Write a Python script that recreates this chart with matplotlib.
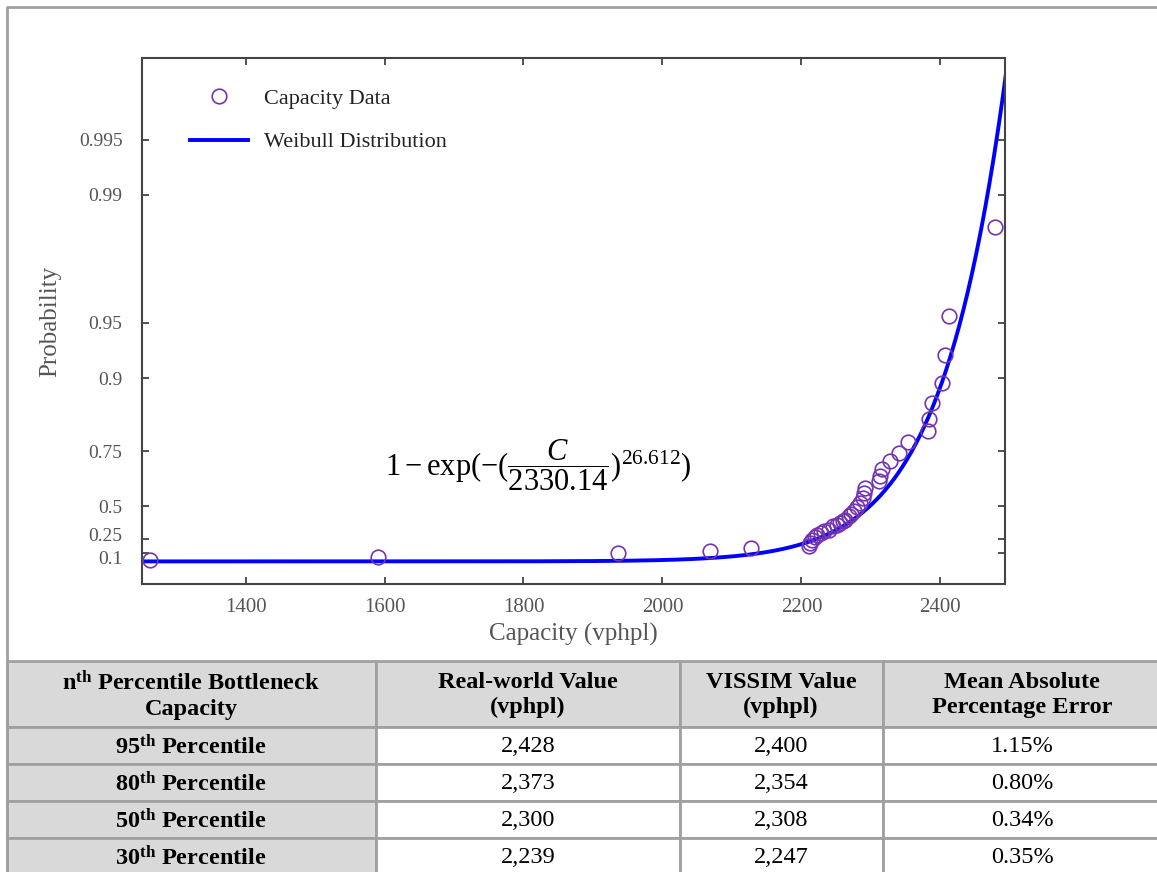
import numpy as np
import matplotlib
matplotlib.use("Agg")
import matplotlib.pyplot as plt
from matplotlib.patches import Rectangle
from matplotlib.lines import Line2D
from matplotlib.transforms import ScaledTranslation

plt.rcParams['font.family'] = ['Liberation Serif', 'DejaVu Serif']
plt.rcParams['mathtext.fontset'] = 'custom'
plt.rcParams['mathtext.rm'] = 'Liberation Serif'
plt.rcParams['mathtext.bf'] = 'Liberation Serif:bold'
plt.rcParams['mathtext.it'] = 'Liberation Serif:italic'

# empirical capacity observations (vphpl) and their plotting positions
capacity = [1262, 1591, 1936, 2069, 2127, 2211, 2213, 2215, 2219, 2222,
            2228, 2232, 2239, 2246, 2251, 2256, 2260, 2263, 2268, 2272,
            2275, 2280, 2285, 2288, 2290, 2291, 2311, 2313, 2316, 2328,
            2340, 2354, 2382, 2383, 2388, 2402, 2407, 2413, 2479]
probability = [0.012, 0.054, 0.100, 0.118, 0.155, 0.172, 0.205, 0.239, 0.262, 0.285,
               0.300, 0.315, 0.329, 0.356, 0.370, 0.383, 0.396, 0.408, 0.433, 0.450,
               0.467, 0.496, 0.521, 0.550, 0.577, 0.603, 0.635, 0.657, 0.685, 0.716,
               0.745, 0.776, 0.805, 0.833, 0.864, 0.894, 0.925, 0.954, 0.985]

# fitted Weibull parameters
weibull_scale = 2330.14
weibull_shape = 26.612

prob_ticks = [0.1, 0.25, 0.5, 0.75, 0.9, 0.95, 0.99, 0.995]
prob_ticklabels = ['0.1', '0.25', '0.5', '0.75', '0.9', '0.95', '0.99', '0.995']
cap_ticks = [1400, 1600, 1800, 2000, 2200, 2400]

# summary table
col_headers = ['n$^{\\mathbf{th}}$ Percentile Bottleneck\nCapacity',
               'Real-world Value\n(vphpl)',
               'VISSIM Value\n(vphpl)',
               'Mean Absolute\nPercentage Error']
percentile_rows = ['95$^{\\mathbf{th}}$ Percentile', '80$^{\\mathbf{th}}$ Percentile',
                   '50$^{\\mathbf{th}}$ Percentile', '30$^{\\mathbf{th}}$ Percentile']
real_world = ['2,428', '2,373', '2,300', '2,239']
vissim = ['2,400', '2,354', '2,308', '2,247']
mape = ['1.15%', '0.80%', '0.34%', '0.35%']


def cum_hazard(p):
    p = np.clip(np.asarray(p, dtype=float), -10, 1 - 1e-12)
    return -np.log(1 - p)


def from_hazard(h):
    return 1 - np.exp(-np.asarray(h, dtype=float))


W, H = 1157, 872
fig = plt.figure(figsize=(W / 100, H / 100), dpi=100)

# page frame + table drawn in pixel coordinates
bg = fig.add_axes([0, 0, 1, 1])
bg.set_xlim(0, W)
bg.set_ylim(H, 0)
bg.axis('off')
grey = '#a0a0a0'
bg.plot([7, 7, W + 5], [H + 5, 7, 7], color=grey, lw=2, solid_capstyle='butt')

col_edges = [7, 376, 680, 883, W + 5]
text_centres = [191, 528, 781, 1022]
row_edges = [661, 727, 764, 801, 838, 875]
n_rows = len(row_edges) - 1
for r in range(n_rows):
    for c in range(4):
        x0, x1 = col_edges[c], col_edges[c + 1]
        y0, y1 = row_edges[r], row_edges[r + 1]
        fill = '#d9d9d9' if (r == 0 or c == 0) else 'white'
        bg.add_patch(Rectangle((x0, y0), x1 - x0, y1 - y0, facecolor=fill,
                               edgecolor=grey, lw=2))
        if r == 0:
            txt, weight = col_headers[c], 'bold'
        else:
            row_vals = [percentile_rows, real_world, vissim, mape][c]
            txt = row_vals[r - 1]
            weight = 'bold' if c == 0 else 'normal'
        bg.text(text_centres[c], (y0 + y1) / 2 + 1, txt, ha='center',
                va='center', fontsize=17.5, fontweight=weight, color='black',
                linespacing=1.25)

# probability plot
ax = fig.add_axes([142 / W, 1 - 584 / H, (1005 - 142) / W, (584 - 58) / H])
ax.set_yscale('function', functions=(cum_hazard, from_hazard))

c_grid = np.linspace(1250, 2500, 600)
weibull_cdf = 1 - np.exp(-(c_grid / weibull_scale) ** weibull_shape)
ax.plot(c_grid, weibull_cdf, color='#0000ff', lw=2.8, zorder=2)
ax.plot(capacity, probability, 'o', mfc='none', mec='#7434b0', mew=1.2,
        ms=10.5, zorder=3)

ax.set_xlim(1251, 2493)
ax.set_ylim(-0.3284, 0.99821)
ax.set_yticks(prob_ticks)
ax.set_yticklabels(prob_ticklabels)
ax.set_xticks(cap_ticks)
ax.yaxis.set_minor_locator(matplotlib.ticker.NullLocator())

ax.tick_params(direction='in', top=True, right=True, length=5, width=1.2,
               colors='#333333', labelcolor='#555555')
ax.tick_params(axis='y', pad=14, labelsize=14)
ax.tick_params(axis='x', pad=10, labelsize=15)
for sp in ax.spines.values():
    sp.set_color('#444444')
    sp.set_linewidth(1.5)

# the two lowest probability labels sit very close; spread them a touch
ylabels = ax.get_yticklabels()
ylabels[0].set_transform(ylabels[0].get_transform() +
                         ScaledTranslation(0, -3 / 72, fig.dpi_scale_trans))
ylabels[1].set_transform(ylabels[1].get_transform() +
                         ScaledTranslation(0, 3 / 72, fig.dpi_scale_trans))

ax.set_xlabel('Capacity (vphpl)', fontsize=18, color='#555555', labelpad=4)
ax.set_ylabel('Probability', fontsize=18, color='#555555', labelpad=13)

ax.text(0.459, 0.226, r'$1 - \exp(-(\dfrac{\mathit{C}}{2330.14})^{26.612})$',
        transform=ax.transAxes, ha='center', va='center', fontsize=22,
        color='black')

handles = [Line2D([], [], ls='none', marker='o', mfc='none', mec='#7434b0',
                  mew=1.2, ms=10.5),
           Line2D([], [], color='#0000ff', lw=2.8)]
ax.legend(handles, ['Capacity Data', 'Weibull Distribution'], loc='upper left',
          bbox_to_anchor=(0.0556, 0.943), frameon=False, fontsize=16,
          borderaxespad=0, borderpad=0,
          handlelength=2.6, handletextpad=0.75, labelspacing=1.05,
          labelcolor='#222222')

fig.savefig('out.png', dpi=100)
